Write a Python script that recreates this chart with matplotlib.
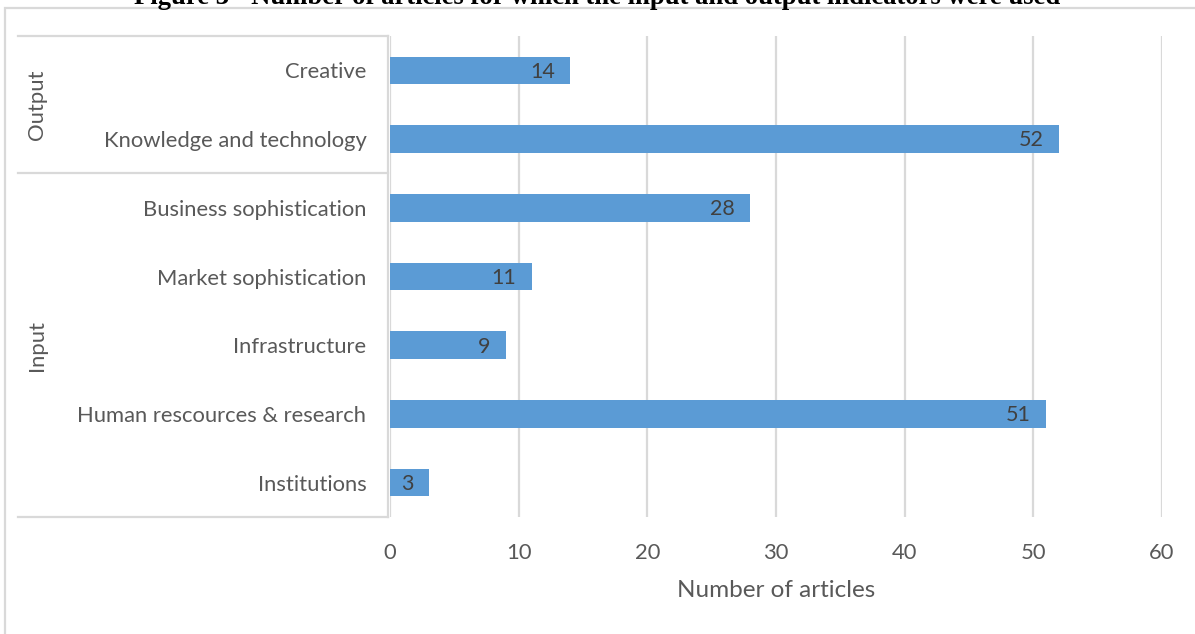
import matplotlib.pyplot as plt
import matplotlib.transforms as mtransforms
from matplotlib.patches import Rectangle

categories = ["Institutions", "Human rescources & research", "Infrastructure",
              "Market sophistication", "Business sophistication",
              "Knowledge and technology", "Creative"]
articles = [3, 51, 9, 11, 28, 52, 14]
groups = [("Input", 0, 4), ("Output", 5, 6)]

W, H = 1195, 634
plt.rcParams['font.family'] = ['Lato', 'DejaVu Sans']

fig = plt.figure(figsize=(W / 100, H / 100), dpi=100)
ax = fig.add_axes([390 / W, 1 - 517 / H, (1162 - 390) / W, (517 - 36) / H])

grid_c = "#D9D9D9"
txt_c = "#595959"

y = range(len(categories))
ax.barh(y, articles, height=0.4, color="#5B9BD5", zorder=3)
for yi, v in zip(y, articles):
    ax.text(v - 1.2, yi - 0.02, str(v), ha="right", va="center", fontsize=15.5,
            color="#404040", zorder=4)

ax.set_xlim(0, 60)
ax.set_ylim(-0.5, len(categories) - 0.5)
ax.set_xticks(range(0, 61, 10))
ax.set_yticks(list(y))
ax.set_yticklabels(categories)
ax.tick_params(axis="both", length=0, labelsize=15.8, colors=txt_c)
ax.tick_params(axis="y", pad=17)
ax.tick_params(axis="x", pad=19)
ax.grid(axis="x", color=grid_c, lw=1.6, zorder=0)
for s in ax.spines.values():
    s.set_visible(False)
ax.set_xlabel("Number of articles", fontsize=17.5, color=txt_c, labelpad=12)

# multi-level category frame
tr = mtransforms.blended_transform_factory(ax.transAxes, ax.transData)
x_left = -(390 - 18) / (1162 - 390)
x_right = -2 / (1162 - 390)
for yb in [-0.5, 4.5, 6.5]:
    ax.plot([x_left, x_right], [yb, yb], transform=tr, color=grid_c, lw=1.6,
            clip_on=False)
ax.plot([x_right, x_right], [-0.5, 6.5], transform=tr, color=grid_c, lw=1.6,
        clip_on=False)
x_grp = -(390 - 37) / (1162 - 390)
for name, lo, hi in groups:
    ax.text(x_grp, (lo + hi) / 2, name, transform=tr, rotation=90,
            ha="center", va="center", fontsize=15.8, color=txt_c)

# chart border
fig.add_artist(Rectangle((5 / W, -0.1), 1.2, 1 - 8 / H + 0.1,
                         transform=fig.transFigure, fill=False,
                         edgecolor=grid_c, lw=1.6))

fig.text(0.5, 1 - 3.5 / H, "Figure 3 - Number of articles for which the input and output indicators were used",
         ha="center", va="baseline", fontsize=19.2, fontweight="bold",
         family="Liberation Serif", color="black")

fig.savefig("out.png", dpi=100)
